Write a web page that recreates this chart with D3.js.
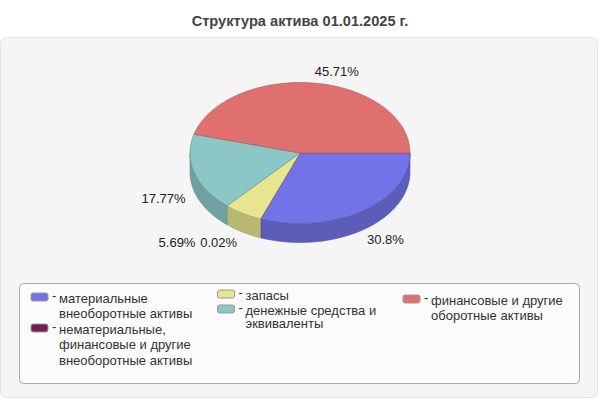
<!DOCTYPE html>
<html><head><meta charset="utf-8">
<script src="https://cdn.jsdelivr.net/npm/d3@7"></script>
<style>html,body{margin:0;padding:0;background:#fff}svg{display:block}text{font-family:"Liberation Sans",Arial,sans-serif}</style>
</head><body><svg id="c" width="600" height="400"></svg>
<script>
const title = "Структура актива 01.01.2025 г.";
const categories = ["материальные внеоборотные активы","нематериальные, финансовые и другие внеоборотные активы","запасы","денежные средства и эквиваленты","финансовые и другие оборотные активы"];
const values = [30.8, 0.02, 5.69, 17.77, 45.71];
const valueLabels = ["30.8%","0.02%","5.69%","17.77%","45.71%"];
const topColors = ["#7373e8","#731d57","#e6e68f","#8dc6c6","#e07070"];
const sideColors = ["#5c5cb9","#5c1746","#b8b872","#71a0a0","#b35a5a"];
const edgeColors = ["#5555a8","#5c1746","#a8a868","#5f8f8f","#a85555"];
const legendLines = [["материальные","внеоборотные активы"],["нематериальные,","финансовые и другие","внеоборотные активы"],["запасы"],["денежные средства и","эквиваленты"],["финансовые и другие","оборотные активы"]];

const svg = d3.select("#c");
svg.append("rect").attr("x",.5).attr("y",37.5).attr("width",597).attr("height",360).attr("rx",6)
  .attr("fill","#f5f5f5").attr("stroke","#e4e4e4");
svg.append("text").attr("x",300).attr("y",26).attr("text-anchor","middle").attr("font-size",14.6).attr("font-weight","bold").attr("fill","#444").text(title);

const cx=300, cy=153, rx=110, ry=70.5, depth=19;
const pie = d3.pie().sort(null).startAngle(0).endAngle(2*Math.PI);
const arcs = pie(values);
const sx = d3.scaleLinear().domain([-1,1]).range([cx-rx,cx+rx]);
const sy = d3.scaleLinear().domain([-1,1]).range([cy-ry,cy+ry]);
const px = a=>sx(Math.cos(a)), py=a=>sy(Math.sin(a));

// walls (only the front half, angle 0..PI, is visible)
arcs.forEach((d,i)=>{
  const a0=d.startAngle, a1=Math.min(d.endAngle,Math.PI);
  if(a0>=Math.PI) return;
  const n=Math.max(2,Math.ceil((a1-a0)*60));
  const pts=d3.range(n+1).map(k=>a0+(a1-a0)*k/n);
  const p=d3.path();
  pts.forEach((a,k)=>k?p.lineTo(px(a),py(a)):p.moveTo(px(a),py(a)));
  pts.slice().reverse().forEach(a=>p.lineTo(px(a),py(a)+depth));
  p.closePath();
  svg.append("path").attr("d",p.toString()).attr("fill",sideColors[i]).attr("stroke",edgeColors[i]).attr("stroke-width",.6);
});
// top faces
arcs.forEach((d,i)=>{
  const a0=d.startAngle,a1=d.endAngle;
  const n=Math.max(2,Math.ceil((a1-a0)*60));
  const p=d3.path(); p.moveTo(cx,cy);
  d3.range(n+1).forEach(k=>{const a=a0+(a1-a0)*k/n;p.lineTo(px(a),py(a));});
  p.closePath();
  svg.append("path").attr("d",p.toString()).attr("fill",topColors[i]).attr("stroke",edgeColors[i]).attr("stroke-width",.6);
});
// value labels
const labelPos=arcs.map(d=>{const m=(d.startAngle+d.endAngle)/2;return [px(m),py(m)];});
const offs=[[23,33],[-42,28],[-66,34],[-31,30],[22,-7]];
valueLabels.forEach((t,i)=>{
  svg.append("text").attr("x",labelPos[i][0]+offs[i][0]).attr("y",labelPos[i][1]+offs[i][1]).attr("text-anchor","middle")
    .attr("font-size",13).attr("fill","#222").text(t);
});
// legend
svg.append("rect").attr("x",19.5).attr("y",283.5).attr("width",560).attr("height",100).attr("rx",4)
  .attr("fill","#fbfbfb").attr("stroke","#aaa");
const legendX=[31,217.5,403], legendCol=[0,0,1,1,2], legendY=[298,329,295,310,300], legendLH=[15.7,15.7,13,13,15.7];
legendLines.forEach((ls,i)=>{
  const x=legendX[legendCol[i]], y=legendY[i];
  svg.append("rect").attr("x",x).attr("y",y-5).attr("width",17).attr("height",8).attr("rx",2)
    .attr("fill",topColors[i]).attr("stroke","#999").attr("stroke-width",1);
  svg.append("text").attr("x",x+21).attr("y",y+2).attr("font-size",13).attr("fill","#333").text("-");
  ls.forEach((l,k)=>svg.append("text").attr("x",x+28).attr("y",y+4.5+k*legendLH[i]).attr("font-size",13).attr("fill","#333").text(l));
});
</script></body></html>
